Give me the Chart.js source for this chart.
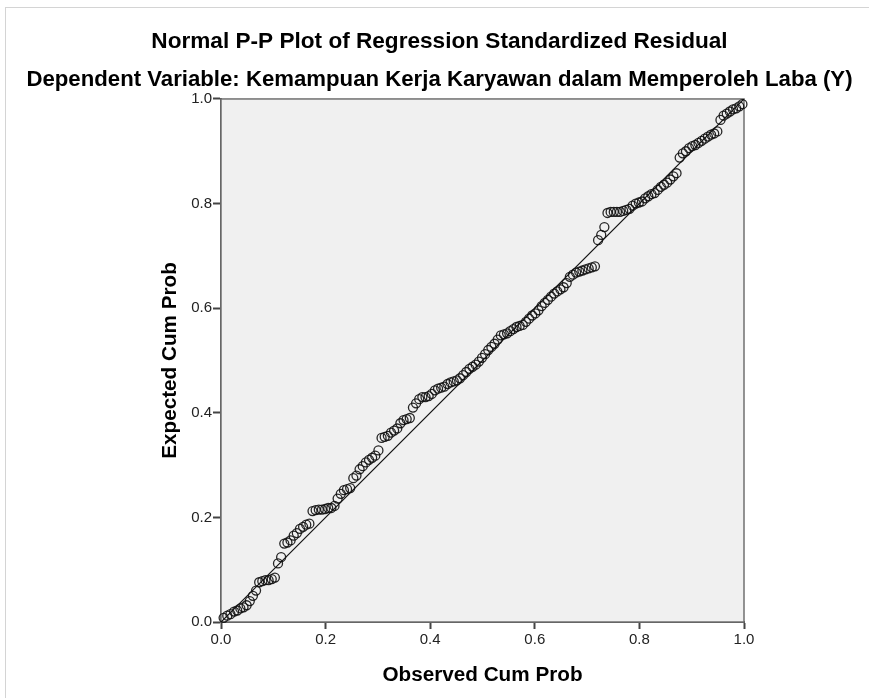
<!DOCTYPE html>
<html>
<head>
<meta charset="utf-8">
<script src="https://cdn.jsdelivr.net/npm/chart.js@4.4.0/dist/chart.umd.min.js"></script>
<style>
  html, body { margin: 0; padding: 0; background: #fff; }
  #wrap { position: relative; width: 869px; height: 698px; }
  #frame { position: absolute; left: 5px; top: 7px; right: -2px; bottom: -2px; border-left: 1px solid #d4d4d4; border-top: 1px solid #d4d4d4; }
  canvas { position: absolute; left: 0; top: 0; }
</style>
</head>
<body>
<div id="wrap">
  <div id="frame"></div>
  <canvas id="ppChart" width="869" height="698"></canvas>
</div>
<script>
const titleText = 'Normal P-P Plot of Regression Standardized Residual';
const subtitleText = 'Dependent Variable: Kemampuan Kerja Karyawan dalam Memperoleh Laba (Y)';
const xTitle = 'Observed Cum Prob';
const yTitle = 'Expected Cum Prob';
const tickValues = [0, 0.2, 0.4, 0.6, 0.8, 1.0];

// observed cumulative probability (x)
const observed = [
  0.005, 0.012, 0.018, 0.025, 0.031, 0.037, 0.043, 0.049, 0.055, 0.061, 0.067,
  0.073, 0.079, 0.085, 0.091, 0.097, 0.103, 0.109, 0.115,
  0.121, 0.127, 0.133, 0.139, 0.145, 0.151, 0.157, 0.163, 0.169,
  0.175, 0.181, 0.187, 0.193, 0.199, 0.205, 0.211, 0.217,
  0.223, 0.229, 0.235, 0.241, 0.247,
  0.253, 0.259, 0.265, 0.271, 0.277, 0.283, 0.289, 0.295, 0.301,
  0.307, 0.313, 0.319, 0.325, 0.331, 0.337, 0.343, 0.349, 0.355, 0.361,
  0.367, 0.373, 0.379, 0.385, 0.391, 0.397, 0.403,
  0.409, 0.415, 0.421, 0.427, 0.433, 0.439, 0.445, 0.451, 0.457, 0.463, 0.469, 0.475, 0.481, 0.487, 0.493,
  0.499, 0.505, 0.511, 0.517, 0.523, 0.529, 0.535,
  0.541, 0.547, 0.553, 0.559, 0.565, 0.571, 0.577, 0.583, 0.589,
  0.595, 0.601, 0.607, 0.613, 0.619, 0.625, 0.631, 0.637, 0.643, 0.649, 0.655, 0.661, 0.667,
  0.673, 0.679, 0.685, 0.691, 0.697, 0.703, 0.709, 0.715,
  0.721, 0.727, 0.733,
  0.739, 0.745, 0.751, 0.757, 0.763, 0.769,
  0.775, 0.781, 0.787, 0.793, 0.799, 0.805, 0.811, 0.817, 0.823, 0.829, 0.835, 0.841, 0.847, 0.853, 0.859, 0.865, 0.871,
  0.877, 0.883, 0.889, 0.895, 0.901, 0.907, 0.913, 0.919,
  0.925, 0.931, 0.937, 0.943, 0.949,
  0.955, 0.961, 0.967, 0.973, 0.979, 0.985, 0.991, 0.997
];

// expected cumulative probability (y)
const expected = [
  0.008, 0.012, 0.015, 0.020, 0.022, 0.026, 0.028, 0.032, 0.040, 0.050, 0.060,
  0.076, 0.078, 0.080, 0.080, 0.082, 0.085, 0.112, 0.124,
  0.150, 0.152, 0.156, 0.165, 0.170, 0.178, 0.182, 0.186, 0.188,
  0.212, 0.214, 0.215, 0.215, 0.216, 0.218, 0.218, 0.222,
  0.236, 0.245, 0.252, 0.254, 0.256,
  0.275, 0.280, 0.292, 0.298, 0.305, 0.310, 0.314, 0.318, 0.328,
  0.352, 0.354, 0.356, 0.362, 0.366, 0.370, 0.380, 0.386, 0.388, 0.390,
  0.410, 0.418, 0.426, 0.430, 0.430, 0.432, 0.436,
  0.443, 0.446, 0.448, 0.450, 0.455, 0.458, 0.460, 0.462, 0.466, 0.472, 0.478, 0.484, 0.488, 0.492, 0.498,
  0.505, 0.512, 0.520, 0.526, 0.532, 0.540, 0.548,
  0.550, 0.552, 0.556, 0.560, 0.564, 0.566, 0.568, 0.574, 0.580,
  0.586, 0.590, 0.596, 0.604, 0.610, 0.616, 0.622, 0.628, 0.632, 0.636, 0.640, 0.648, 0.660,
  0.664, 0.668, 0.670, 0.672, 0.674, 0.676, 0.678, 0.680,
  0.730, 0.740, 0.755,
  0.782, 0.784, 0.784, 0.784, 0.784, 0.786,
  0.788, 0.790, 0.796, 0.800, 0.802, 0.804, 0.810, 0.814, 0.818, 0.820, 0.826, 0.832, 0.836, 0.840, 0.846, 0.852, 0.858,
  0.888, 0.896, 0.900, 0.906, 0.910, 0.912, 0.916, 0.920,
  0.924, 0.928, 0.932, 0.934, 0.938,
  0.960, 0.968, 0.972, 0.976, 0.980, 0.982, 0.986, 0.990
];

// reference line of the normal distribution
const refLine = [0, 1];

const fontFamily = "'Liberation Sans', Arial, sans-serif";

const plotFrame = {
  id: 'plotFrame',
  beforeDatasetsDraw(chart) {
    const { ctx, chartArea: a } = chart;
    ctx.save();
    ctx.fillStyle = '#f0f0f0';
    ctx.fillRect(a.left, a.top, a.right - a.left, a.bottom - a.top);
    ctx.strokeStyle = '#707070';
    ctx.lineWidth = 1.5;
    ctx.strokeRect(a.left, a.top, a.right - a.left, a.bottom - a.top);
    ctx.restore();
  }
};

const points = observed.map((x, i) => ({ x, y: expected[i] }));

new Chart(document.getElementById('ppChart'), {
  type: 'scatter',
  data: {
    datasets: [
      {
        type: 'line',
        data: refLine.map(v => ({ x: v, y: v })),
        borderColor: '#111',
        borderWidth: 1.2,
        pointRadius: 0,
        fill: false
      },
      {
        data: points,
        pointRadius: 4.5,
        pointBorderWidth: 1.3,
        borderColor: 'rgba(15,15,15,0.9)',
        backgroundColor: 'rgba(0,0,0,0)',
        clip: false
      }
    ]
  },
  options: {
    responsive: false,
    animation: false,
    events: [],
    layout: { padding: { left: 10, right: 0, top: 0, bottom: 0 } },
    plugins: {
      legend: { display: false },
      tooltip: { enabled: false },
      title: {
        display: true,
        text: titleText,
        color: '#000',
        font: { family: fontFamily, size: 22.6, weight: 'bold', lineHeight: 1.2 },
        padding: { top: 28.4, bottom: 0 }
      },
      subtitle: {
        display: true,
        text: subtitleText,
        color: '#000',
        font: { family: fontFamily, size: 22.2, weight: 'bold', lineHeight: 1.2 },
        padding: { top: 11.1, bottom: 5.7 }
      }
    },
    scales: {
      x: {
        type: 'linear',
        min: 0,
        max: 1,
        afterFit: (scale) => { scale.height = 76; },
        afterBuildTicks: (scale) => { scale.ticks = tickValues.map(v => ({ value: v })); },
        ticks: {
          color: '#222',
          padding: 2,
          font: { family: fontFamily, size: 15 },
          callback: (v) => Number(v).toFixed(1)
        },
        grid: { drawOnChartArea: false, drawTicks: true, tickLength: 7, tickColor: '#444', tickWidth: 2 },
        border: { display: true, color: '#4a4a4a', width: 2 },
        title: {
          display: true,
          text: xTitle,
          color: '#000',
          font: { family: fontFamily, size: 20.7, weight: 'bold', lineHeight: 1.2 },
          padding: { top: 0, bottom: 10.6 }
        }
      },
      y: {
        type: 'linear',
        position: 'left',
        min: 0,
        max: 1,
        afterFit: (scale) => { scale.width = 211; },
        afterBuildTicks: (scale) => { scale.ticks = tickValues.map(v => ({ value: v })); },
        ticks: {
          color: '#222',
          padding: 1,
          font: { family: fontFamily, size: 15 },
          callback: (v) => Number(v).toFixed(1)
        },
        grid: { drawOnChartArea: false, drawTicks: true, tickLength: 8, tickColor: '#444', tickWidth: 2 },
        border: { display: true, color: '#4a4a4a', width: 2 },
        title: {
          display: true,
          text: yTitle,
          color: '#000',
          font: { family: fontFamily, size: 20.7, weight: 'bold', lineHeight: 1.2 },
          padding: { top: 147.6, bottom: 0 }
        }
      },
      yRight: {
        type: 'linear',
        position: 'right',
        min: 0,
        max: 1,
        afterFit: (scale) => { scale.width = 125; },
        ticks: { display: false },
        grid: { display: false },
        border: { display: false },
        title: { display: false }
      }
    }
  },
  plugins: [plotFrame]
});
</script>
</body>
</html>
